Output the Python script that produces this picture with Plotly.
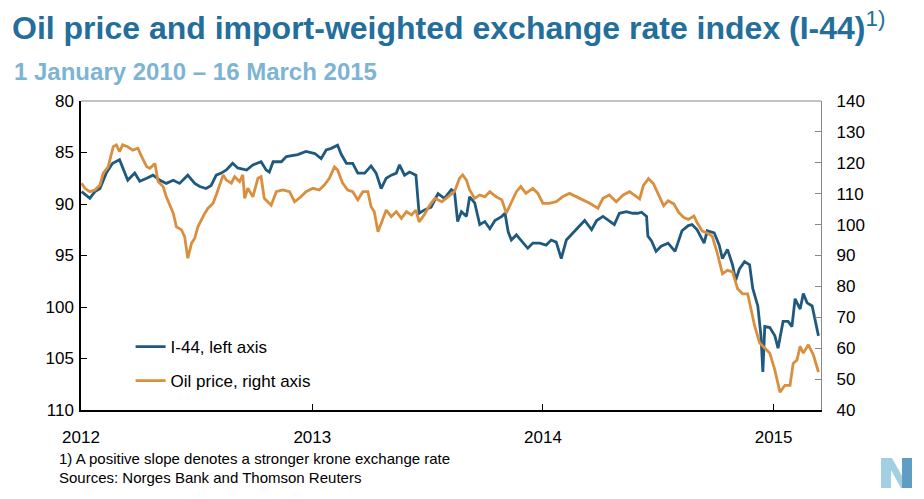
import plotly.graph_objects as go

# ---------------- data ----------------
i44_dates = [
    "2012-01-02", "2012-01-15", "2012-01-23", "2012-01-31", "2012-02-10", "2012-02-20", "2012-03-02",
    "2012-03-07", "2012-03-15", "2012-03-26", "2012-04-03", "2012-04-14", "2012-04-24", "2012-05-05",
    "2012-05-15", "2012-05-26", "2012-06-05", "2012-06-18", "2012-06-29", "2012-07-07", "2012-07-17",
    "2012-07-25", "2012-08-02", "2012-08-10", "2012-08-18", "2012-08-28", "2012-09-05", "2012-09-19",
    "2012-09-29", "2012-10-12", "2012-10-20", "2012-10-25", "2012-10-31", "2012-11-13", "2012-11-21",
    "2012-12-09", "2012-12-22", "2013-01-05", "2013-01-15", "2013-01-23", "2013-01-31", "2013-02-10",
    "2013-02-16", "2013-02-24", "2013-03-06", "2013-03-14", "2013-03-25", "2013-04-04", "2013-04-12",
    "2013-04-20", "2013-04-28", "2013-05-06", "2013-05-14", "2013-05-19", "2013-05-27", "2013-06-04",
    "2013-06-14", "2013-06-19", "2013-06-27", "2013-07-08", "2013-07-19", "2013-07-29", "2013-08-09",
    "2013-08-14", "2013-08-19", "2013-08-25", "2013-09-02", "2013-09-07", "2013-09-15", "2013-09-23",
    "2013-10-01", "2013-10-09", "2013-10-17", "2013-10-28", "2013-11-02", "2013-11-07", "2013-11-12",
    "2013-11-20", "2013-11-30", "2013-12-08", "2013-12-16", "2013-12-27", "2014-01-06", "2014-01-14",
    "2014-01-22", "2014-01-30", "2014-02-07", "2014-02-17", "2014-02-25", "2014-03-08", "2014-03-19",
    "2014-03-27", "2014-04-06", "2014-04-16", "2014-04-24", "2014-05-02", "2014-05-13", "2014-05-23",
    "2014-05-31", "2014-06-06", "2014-06-14", "2014-06-16", "2014-06-22", "2014-06-29", "2014-07-07",
    "2014-07-18", "2014-07-29", "2014-08-09", "2014-08-19", "2014-08-25", "2014-09-02", "2014-09-13",
    "2014-09-18", "2014-09-29", "2014-10-07", "2014-10-12", "2014-10-20", "2014-10-28", "2014-11-02",
    "2014-11-08", "2014-11-16", "2014-11-24", "2014-11-29", "2014-12-07", "2014-12-12", "2014-12-15",
    "2014-12-18", "2014-12-26", "2015-01-03", "2015-01-08", "2015-01-16", "2015-01-24", "2015-01-30",
    "2015-02-04", "2015-02-12", "2015-02-17", "2015-02-23", "2015-03-03", "2015-03-08", "2015-03-13",
]
i44_values = [
    88.8, 89.45, 88.8, 88.5, 87.0, 86.05, 85.7,
    86.4, 87.7, 87.0, 87.8, 87.5, 87.2, 87.7,
    88.0, 87.7, 88.0, 87.2, 88.0, 88.3, 88.5,
    88.2, 87.2, 87.0, 86.7, 86.05, 86.5, 86.7,
    86.2, 85.9, 86.7, 86.9, 85.9, 85.9, 85.4,
    85.2, 84.9, 85.1, 85.6, 84.75, 84.6, 84.3,
    85.2, 86.05, 86.05, 87.0, 87.0, 86.3, 87.0,
    88.5, 87.5, 87.2, 87.0, 86.2, 87.2, 86.9,
    87.2, 90.9, 90.6, 90.3, 89.0, 89.45, 88.6,
    88.8, 91.7, 90.75, 91.2, 89.3, 89.9, 92.0,
    91.7, 92.4, 91.6, 91.2, 90.9, 92.7, 93.5,
    93.0, 93.7, 94.3, 93.8, 93.8, 94.0, 93.5,
    93.7, 95.3, 93.5, 92.85, 92.4, 91.6, 92.5,
    91.6, 91.2, 91.6, 92.0, 90.9, 90.75, 90.9,
    90.9, 90.8, 91.2, 93.1, 93.6, 94.6, 94.1,
    93.8, 94.6, 92.6, 92.1, 92.0, 92.5, 93.8,
    92.6, 92.8, 94.0, 95.3, 94.4, 95.9, 97.4,
    96.3, 95.6, 95.9, 98.2, 99.9, 102.8, 106.3,
    101.9, 102.0, 102.8, 104.0, 101.4, 101.4, 101.9,
    99.2, 100.2, 98.7, 99.6, 99.9, 101.2, 102.8,
]

oil_dates = [
    "2012-01-02", "2012-01-07", "2012-01-15", "2012-01-23", "2012-01-31", "2012-02-05", "2012-02-13",
    "2012-02-21", "2012-02-26", "2012-03-02", "2012-03-07", "2012-03-15", "2012-03-23", "2012-03-31",
    "2012-04-06", "2012-04-14", "2012-04-19", "2012-04-27", "2012-05-02", "2012-05-10", "2012-05-15",
    "2012-05-21", "2012-05-26", "2012-05-31", "2012-06-08", "2012-06-13", "2012-06-18", "2012-06-24",
    "2012-06-29", "2012-07-04", "2012-07-10", "2012-07-15", "2012-07-20", "2012-07-28", "2012-08-02",
    "2012-08-07", "2012-08-13", "2012-08-18", "2012-08-26", "2012-08-31", "2012-09-08", "2012-09-13",
    "2012-09-16", "2012-09-21", "2012-09-29", "2012-10-07", "2012-10-12", "2012-10-17", "2012-10-28",
    "2012-11-05", "2012-11-15", "2012-11-26", "2012-12-04", "2012-12-14", "2012-12-22", "2013-01-02",
    "2013-01-12", "2013-01-20", "2013-01-28", "2013-02-05", "2013-02-10", "2013-02-18", "2013-02-26",
    "2013-03-06", "2013-03-14", "2013-03-22", "2013-03-30", "2013-04-04", "2013-04-09", "2013-04-15",
    "2013-04-20", "2013-04-28", "2013-05-06", "2013-05-14", "2013-05-22", "2013-05-30", "2013-06-07",
    "2013-06-14", "2013-06-19", "2013-06-27", "2013-07-06", "2013-07-14", "2013-07-25", "2013-08-04",
    "2013-08-14", "2013-08-22", "2013-08-27", "2013-09-02", "2013-09-07", "2013-09-15", "2013-09-23",
    "2013-10-01", "2013-10-09", "2013-10-19", "2013-10-28", "2013-11-04", "2013-11-12", "2013-11-20",
    "2013-11-27", "2013-12-05", "2013-12-16", "2013-12-24", "2014-01-01", "2014-01-11", "2014-01-22",
    "2014-02-01", "2014-02-12", "2014-02-22", "2014-03-05", "2014-03-16", "2014-03-29", "2014-04-06",
    "2014-04-16", "2014-04-27", "2014-05-08", "2014-05-18", "2014-05-29", "2014-06-03", "2014-06-09",
    "2014-06-17", "2014-06-25", "2014-07-03", "2014-07-11", "2014-07-18", "2014-07-27", "2014-08-04",
    "2014-08-12", "2014-08-19", "2014-08-28", "2014-09-02", "2014-09-10", "2014-09-18", "2014-09-26",
    "2014-10-04", "2014-10-12", "2014-10-20", "2014-10-28", "2014-11-05", "2014-11-13", "2014-11-21",
    "2014-11-27", "2014-12-02", "2014-12-10", "2014-12-18", "2014-12-26", "2015-01-03", "2015-01-11",
    "2015-01-19", "2015-01-27", "2015-02-01", "2015-02-07", "2015-02-12", "2015-02-17", "2015-02-25",
    "2015-03-05", "2015-03-13",
]
oil_values = [
    113.4, 111.75, 110.65, 111.2, 112.8, 116.6, 118.7,
    125.2, 125.8, 123.6, 125.8, 125.2, 124.1, 124.7,
    122.0, 118.7, 118.2, 119.8, 113.9, 112.3, 109.0,
    105.8, 103.7, 99.3, 98.3, 96.1, 89.1, 94.0,
    95.6, 99.3, 102.0, 103.7, 105.3, 106.9, 109.6,
    112.8, 116.1, 114.4, 113.4, 115.5, 113.9, 116.1,
    108.5, 111.75, 109.0, 115.0, 115.5, 108.5, 106.3,
    110.65, 111.2, 110.65, 107.4, 109.0, 110.65, 111.75,
    111.2, 112.8, 115.0, 118.7, 117.7, 113.4, 111.2,
    110.65, 108.0, 110.65, 110.65, 105.8, 104.2, 97.7,
    100.4, 104.7, 102.6, 104.2, 102.0, 104.2, 103.1,
    104.7, 100.9, 103.1, 106.3, 108.5, 107.4, 109.0,
    110.65, 115.0, 116.1, 114.4, 111.2, 108.5, 109.6,
    109.0, 110.65, 109.0, 108.0, 103.7, 107.4, 110.65,
    112.3, 110.1, 111.75, 110.1, 106.9, 106.9, 107.4,
    109.0, 110.1, 109.0, 108.0, 106.9, 105.3, 108.5,
    109.6, 107.4, 109.6, 110.65, 109.0, 108.3, 112.7,
    114.9, 113.2, 109.9, 106.1, 107.7, 106.7, 103.9,
    102.3, 101.7, 102.8, 100.6, 97.9, 97.3, 96.2,
    90.7, 84.1, 85.2, 84.7, 79.2, 77.6, 77.6,
    71.6, 67.2, 61.7, 60.0, 58.4, 52.9, 45.8,
    48.0, 48.0, 55.1, 56.2, 60.6, 58.4, 61.1,
    57.8, 52.3,
]

year_ticks = ["2012-01-01", "2013-01-01", "2014-01-01", "2015-01-01"]
year_labels = ["2012", "2013", "2014", "2015"]
left_ticks = [80, 85, 90, 95, 100, 105, 110]
right_ticks = [40, 50, 60, 70, 80, 90, 100, 110, 120, 130, 140]

# ---------------- styles ----------------
BLUE = "#1F5A7E"
ORANGE = "#D98F3E"
FONT = "Liberation Sans, Arial, sans-serif"

fig = go.Figure()
fig.add_trace(go.Scatter(
    x=i44_dates, y=i44_values, name="I-44, left axis", mode="lines",
    line=dict(color=BLUE, width=2.8), legendgroup="a", yaxis="y"))
fig.add_trace(go.Scatter(
    x=oil_dates, y=oil_values, name="Oil price, right axis", mode="lines",
    line=dict(color=ORANGE, width=2.8), legendgroup="b", yaxis="y2"))

fig.update_layout(
    width=924, height=499,
    margin=dict(l=81, r=103, t=101, b=89),
    paper_bgcolor="white", plot_bgcolor="white",
    font=dict(family=FONT, size=17, color="black"),
    showlegend=True,
    legend=dict(x=0.067, y=0.262, xanchor="left", yanchor="top",
                bgcolor="rgba(0,0,0,0)", font=dict(size=17, color="black"),
                traceorder="grouped", tracegroupgap=9, itemwidth=30),
    xaxis=dict(type="date", range=["2012-01-01", "2015-03-17"],
               tickmode="array", tickvals=year_ticks, ticktext=year_labels,
               ticks="inside", ticklen=6, tickcolor="black", tickwidth=1,
               showline=True, linecolor="black", linewidth=1.5,
               showgrid=False, zeroline=False, ticklabelstandoff=11,
               tickfont=dict(size=17)),
    yaxis=dict(range=[110, 80], tickmode="array", tickvals=left_ticks,
               ticks="inside", ticklen=6, tickcolor="black",
               showline=True, linecolor="black", linewidth=1.5,
               showgrid=False, zeroline=False, tickfont=dict(size=17),
               ticklabelstandoff=2),
    yaxis2=dict(range=[40, 140], tickmode="array", tickvals=right_ticks,
                overlaying="y", side="right", ticks="inside", ticklen=6,
                tickcolor="#888888", showline=True, linecolor="#888888",
                linewidth=1.2, showgrid=False, zeroline=False,
                tickfont=dict(size=17), ticklabelstandoff=11),
    title=dict(text="<b>Oil price and import-weighted exchange rate index (I-44)</b><sup>1)</sup>",
               x=12 / 924, xref="container", xanchor="left",
               y=1 - 17 / 499, yref="container", yanchor="top",
               font=dict(family=FONT, size=32, color="#236E9A")),
)

# top border in gray
fig.add_shape(type="line", xref="paper", yref="paper", x0=0, x1=1, y0=1, y1=1,
              line=dict(color="#888888", width=1.2))

# subtitle and footnotes
fig.add_annotation(text="<b>1 January 2010 – 16 March 2015</b>", xref="paper", yref="paper",
                   x=-69 / 740, y=1 + 29 / 309, xanchor="left", yanchor="middle",
                   showarrow=False, font=dict(family=FONT, size=24, color="#7DB4D3"))
fig.add_annotation(text="1) A positive slope denotes a stronger krone exchange rate",
                   xref="paper", yref="paper", x=-24 / 740, y=-48 / 309,
                   xanchor="left", yanchor="middle", showarrow=False,
                   font=dict(family=FONT, size=15, color="black"))
fig.add_annotation(text="Sources: Norges Bank and Thomson Reuters",
                   xref="paper", yref="paper", x=-24 / 740, y=-67 / 309,
                   xanchor="left", yanchor="middle", showarrow=False,
                   font=dict(family=FONT, size=15, color="black"))

# small "N" logo (left bar + diagonal lighter, right bar darker)
fig.add_shape(type="path", xref="paper", yref="paper",
              path="M 1.0811 -0.2524 L 1.0811 -0.1553 L 1.0959 -0.1553 L 1.1095 -0.2136 "
                   "L 1.1095 -0.2524 L 1.1081 -0.2524 L 1.0946 -0.1942 L 1.0946 -0.2524 Z",
              fillcolor="#A3CFE3", line=dict(width=0), layer="above")
fig.add_shape(type="path", xref="paper", yref="paper",
              path="M 1.1095 -0.1553 L 1.1230 -0.1553 L 1.1230 -0.2524 L 1.1095 -0.2524 Z",
              fillcolor="#5E9EC2", line=dict(width=0), layer="above")

fig.write_html("out.html",
               config={"displayModeBar": False},
               post_script="document.body.style.margin='0';document.body.style.padding='0';")
